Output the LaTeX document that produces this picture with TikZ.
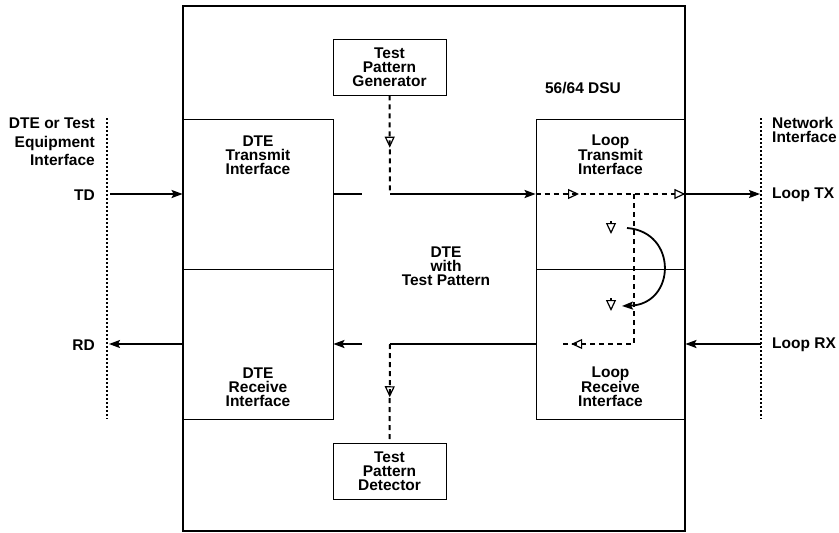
\documentclass[tikz,border=0pt]{standalone}
\usepackage{fontspec}
\setmainfont{Liberation Sans}
\usetikzlibrary{arrows.meta,decorations.markings}

\begin{document}
\begin{tikzpicture}[x=1pt,y=-1pt,
  every node/.style={font=\bfseries\fontsize{15.5}{14}\selectfont,inner sep=0pt},
  blk/.style={draw,line width=0.8pt},
  sig/.style={line width=1.8pt,-{Stealth[length=11pt,width=8pt,inset=2pt]}},
  wire/.style={line width=1.8pt},
  tst/.style={line width=2pt,dash pattern=on 5pt off 4pt},
  otip/.style={-{Triangle[open,length=11pt,width=10pt,line width=1.2pt]}},
  otri/.style={postaction={decorate},decoration={markings,
      mark=at position #1 with {\arrow[solid]{Triangle[open,length=11pt,width=10pt,line width=1.2pt]}}}},
  ifline/.style={line width=1.6pt,dash pattern=on 1.6pt off 2.4pt}]
\useasboundingbox (0,0) rectangle (839,533);
% interface blocks
\node[blk,minimum width=150pt,minimum height=150pt] (dtetx) at (258,194) {};
\node[blk,minimum width=150pt,minimum height=150pt] (dterx) at (258,344) {};
\node[blk,minimum width=149pt,minimum height=150pt] (looptx) at (610.5,194) {};
\node[blk,minimum width=149pt,minimum height=150pt] (looprx) at (610.5,344) {};
\node[align=center] (dtetxl) at (258,155) {DTE\\Transmit\\Interface};
\node[align=center] (dterxl) at (258,387) {DTE\\Receive\\Interface};
\node[align=center] (looptxl) at (610.5,155) {Loop\\Transmit\\Interface};
\node[align=center] (looprxl) at (610.5,387) {Loop\\Receive\\Interface};
% test pattern blocks
\node[blk,align=center,minimum width=113pt,minimum height=56pt] (gen) at (389.5,67) {Test\\Pattern\\Generator};
\node[blk,align=center,minimum width=113pt,minimum height=56pt] (det) at (389.5,471) {Test\\Pattern\\Detector};
% DSU outline
\node[draw,line width=2.7pt,minimum width=502pt,minimum height=525pt] (dsu) at (434,268.5) {};
\node (dsul) at (583,88) {56/64 DSU};
\node[align=center] (mid) at (446,266) {DTE\\with\\Test Pattern};
% interface lines
\coordinate (lt) at (107,118); \coordinate (lb) at (107,419);
\coordinate (rt) at (761,118); \coordinate (rb) at (761,419);
\draw[ifline] (lt) -- (lb);
\draw[ifline] (rt) -- (rb);
\node[align=right,anchor=east,font=\bfseries\fontsize{15.5}{18.5}\selectfont] (dtel) at (95,142) {DTE or Test\\Equipment\\Interface};
\node[align=left,anchor=west] (netl) at (772,130) {Network\\Interface};
\node[anchor=east] (tdl) at (95,195) {TD};
\node[anchor=east] (rdl) at (95,345) {RD};
\node[anchor=west] (txl) at (772,195) {Loop TX};
\node[anchor=west] (rxl) at (772,345) {Loop RX};
% external signals
\coordinate (td) at (110,194); \coordinate (rd) at (109,344);
\coordinate (tx) at (760,194); \coordinate (rx) at (761,344);
\draw[sig] (td) -- (dtetx.west);
\draw[sig] (dterx.west) -- (rd);
\draw[sig] (looptx.east) -- (tx);
\draw[sig] (rx) -- (looprx.east);
% transmit path
\coordinate (ta) at (362,194); \coordinate (tb) at (390,194);
\draw[wire] (dtetx.east) -- (ta);
\draw[sig] (tb) -- (looptx.west);
\draw[tst,otri=0.53] (gen.south) -- (tb);
\draw[tst,otri=0.29,otip] (looptx.west) -- (looptx.east);
% loopback
\coordinate (lx) at (634,194); \coordinate (ly) at (634,344); \coordinate (lz) at (560,344);
\draw[tst,otri=0.95] (lx) -- (ly) -- (lz);
\coordinate (ca) at (627,228); \coordinate (cb) at (622,306);
\draw[sig] (ca) .. controls (678,232) and (676,304) .. (cb);
\coordinate (ma) at (611,221); \coordinate (mb) at (611,234);
\coordinate (na) at (611,298); \coordinate (nb) at (611,311);
\draw[otip,line width=1.2pt] (ma) -- (mb);
\draw[otip,line width=1.2pt] (na) -- (nb);
% receive path
\coordinate (ba) at (390,344); \coordinate (bb) at (362,344);
\draw[wire] (looprx.west) -- (ba);
\draw[sig] (bb) -- (dterx.east);
\draw[tst,otri=0.54] (ba) -- (det.north);
\end{tikzpicture}
\end{document}
